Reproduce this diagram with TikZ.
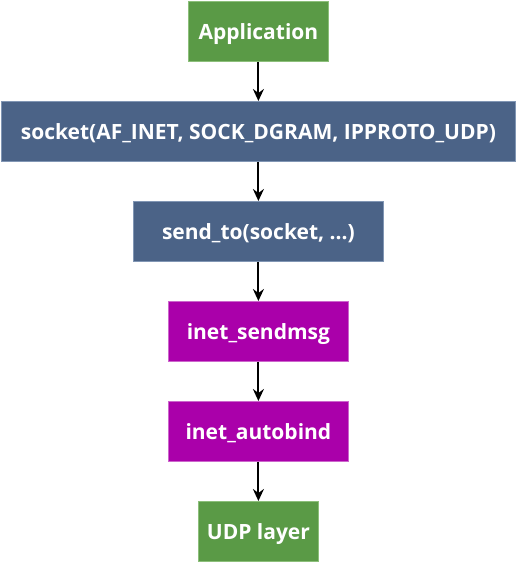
\documentclass[tikz,border=0pt]{standalone}
\usepackage{fontspec}
\setmainfont{Open Sans}
\usetikzlibrary{arrows.meta}
\definecolor{gfill}{HTML}{5A9A46}
\definecolor{gdraw}{HTML}{8CBF7A}
\definecolor{bfill}{HTML}{4B6387}
\definecolor{bdraw}{HTML}{8196B4}
\definecolor{pfill}{HTML}{AA00AA}
\definecolor{pdraw}{HTML}{CC66CC}
\tikzset{
  box/.style={draw, line width=0.8pt, text=white, font=\bfseries\fontsize{21}{24}\selectfont, inner sep=0pt, text depth=0pt, anchor=north west},
  greenbox/.style={box, fill=gfill, draw=gdraw},
  bluebox/.style={box, fill=bfill, draw=bdraw},
  purplebox/.style={box, fill=pfill, draw=pdraw},
  link/.style={draw=black, line width=2pt, -{Stealth[length=12pt,width=11pt,inset=4pt]}}
}
\begin{document}
\begin{tikzpicture}[x=1pt,y=-1pt]
\useasboundingbox (0,0) rectangle (516,562);
\node[greenbox, minimum width=140pt, minimum height=60pt] (app) at (188,1) {Application};
\node[bluebox, minimum width=514pt, minimum height=60pt] (sock) at (1,101) {socket(AF\_INET, SOCK\_DGRAM, IPPROTO\_UDP)};
\node[bluebox, minimum width=250pt, minimum height=60pt] (send) at (133,201) {send\_to(socket, ...)};
\node[purplebox, minimum width=180pt, minimum height=60pt] (msg) at (168,301) {inet\_sendmsg};
\node[purplebox, minimum width=180pt, minimum height=60pt] (bind) at (168,401) {inet\_autobind};
\node[greenbox, minimum width=120pt, minimum height=60pt] (udp) at (198,501) {UDP layer};
\draw[link] (app.south) -- (sock.north);
\draw[link] (sock.south) -- (send.north);
\draw[link] (send.south) -- (msg.north);
\draw[link] (msg.south) -- (bind.north);
\draw[link] (bind.south) -- (udp.north);
\end{tikzpicture}
\end{document}
